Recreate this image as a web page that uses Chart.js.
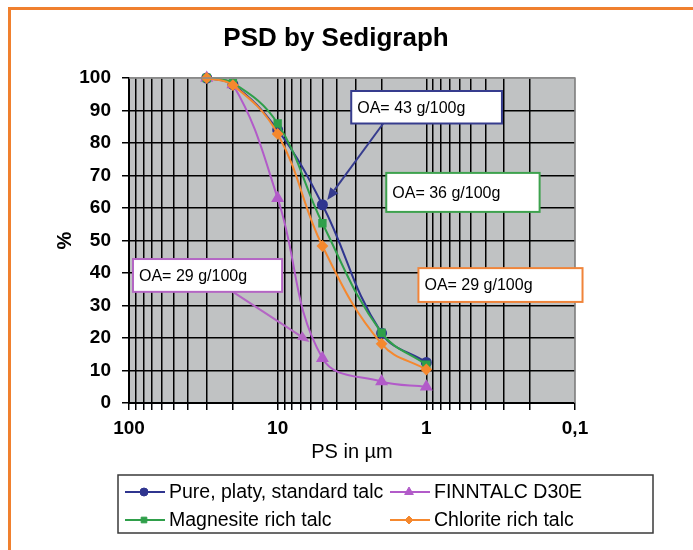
<!DOCTYPE html>
<html>
<head>
<meta charset="utf-8">
<title>PSD by Sedigraph</title>
<script src="https://cdn.jsdelivr.net/npm/chart.js@4"></script>
<style>
  html, body { margin: 0; padding: 0; background: #fff; }
  #wrap { position: relative; width: 693px; height: 550px; overflow: hidden; }
  #frame {
    position: absolute; left: 8px; top: 7px; right: -10px; bottom: -10px;
    border-top: 3px solid #f0802e; border-left: 3px solid #f0802e;
  }
  canvas { position: absolute; left: 0; top: 0; }
</style>
</head>
<body>
<div id="wrap">
  <div id="frame"></div>
  <canvas id="psdChart" width="693" height="550"></canvas>
</div>
<script>
// particle sizes (µm) and cumulative % finer
const sizes = [30, 20, 10, 5, 2, 1];
const pureTalc = [100, 98, 84, 61, 21.5, 12.5];
const finntalc = [100, 98, 63, 13.8, 6.6, 5];
const magnesiteTalc = [100, 98.5, 86, 55.3, 21.6, 11.8];
const chloriteTalc = [100, 97.8, 82.8, 48.3, 18.2, 10.3];

const seriesNames = ['Pure, platy, standard talc', 'FINNTALC D30E', 'Magnesite rich talc', 'Chlorite rich talc'];
const xTickValues = [100, 10, 1, 0.1];
const xTickLabels = ['100', '10', '1', '0,1'];
const chartTitle = 'PSD by Sedigraph';

// annotation boxes: [x1, y1, x2, y2] and arrows: [fromX, fromY, toX, toY] in data units
const notes = [
    { text: 'OA= 43 g/100g', color: '#363c8e', box: [3.2, 96, 0.31, 86], arrow: [1.95, 86, 4.64, 62.5] },
    { text: 'OA= 36 g/100g', color: '#3ea24e', box: [1.86, 70.8, 0.173, 58.8] },
    { text: 'OA= 29 g/100g', color: '#b466c4', box: [94, 44.3, 9.33, 34.2], arrow: [20, 34.2, 6.1, 18.8] },
    { text: 'OA= 29 g/100g', color: '#f0843a', box: [1.13, 41.5, 0.089, 31.1] }
];

const colors = ['#2f358f', '#b25bc9', '#2f9f4a', '#f5882e'];
const markers = ['circle', 'triangle', 'rect', 'rectRot'];
const markerSizes = [4.5, 5.5, 4.5, 4.5];

const FONT = '"Liberation Sans", Arial, sans-serif';
Chart.defaults.font.family = FONT;
Chart.defaults.color = '#000';

// all grid positions on the log axis
const gridValues = [];
[0.1, 1, 10].forEach(decade => {
    for (let i = 1; i < 10; i++) gridValues.push(+(decade * i).toFixed(2));
});
gridValues.push(100);

const toPoints = arr => sizes.map((s, i) => ({ x: s, y: arr[i] }));

const plotBackground = {
    id: 'plotBackground',
    beforeDraw(chart) {
        const { ctx, chartArea: a } = chart;
        ctx.save();
        ctx.fillStyle = '#c0c2c3';
        ctx.fillRect(a.left, a.top, a.right - a.left, a.bottom - a.top);
        ctx.restore();
    },
    afterDraw(chart) {
        const { ctx, chartArea: a } = chart;
        ctx.save();
        ctx.strokeStyle = '#8a8a8a';
        ctx.lineWidth = 1.5;
        ctx.beginPath();
        ctx.moveTo(a.left, a.top);
        ctx.lineTo(a.right, a.top);
        ctx.lineTo(a.right, a.bottom);
        ctx.stroke();
        // title, centred on the page rather than the plot
        ctx.fillStyle = '#000';
        ctx.font = 'bold 26px ' + FONT;
        ctx.textAlign = 'center';
        ctx.textBaseline = 'middle';
        ctx.fillText(chartTitle, 336, 39);
        ctx.restore();
    }
};

const annotations = {
    id: 'annotations',
    afterDraw(chart) {
        const { ctx, scales: { x, y } } = chart;
        ctx.save();
        notes.forEach(n => {
            const x1 = x.getPixelForValue(n.box[0]);
            const y1 = y.getPixelForValue(n.box[1]);
            const x2 = x.getPixelForValue(n.box[2]);
            const y2 = y.getPixelForValue(n.box[3]);
            ctx.fillStyle = '#fff';
            ctx.fillRect(x1, y1, x2 - x1, y2 - y1);
            ctx.strokeStyle = n.color;
            ctx.lineWidth = 2;
            ctx.strokeRect(x1, y1, x2 - x1, y2 - y1);
            ctx.fillStyle = '#000';
            ctx.font = '16px ' + FONT;
            ctx.textBaseline = 'middle';
            ctx.textAlign = 'left';
            ctx.fillText(n.text, x1 + 6, (y1 + y2) / 2 + 1);

            if (n.arrow) {
                const fx = x.getPixelForValue(n.arrow[0]);
                const fy = y.getPixelForValue(n.arrow[1]);
                const tx = x.getPixelForValue(n.arrow[2]);
                const ty = y.getPixelForValue(n.arrow[3]);
                const ang = Math.atan2(ty - fy, tx - fx);
                const len = 12, half = 5;
                const bx = tx - Math.cos(ang) * len;
                const by = ty - Math.sin(ang) * len;
                ctx.strokeStyle = n.color;
                ctx.lineWidth = 2;
                ctx.beginPath();
                ctx.moveTo(fx, fy);
                ctx.lineTo(bx, by);
                ctx.stroke();
                ctx.fillStyle = n.color;
                ctx.beginPath();
                ctx.moveTo(tx, ty);
                ctx.lineTo(bx + Math.sin(ang) * half, by - Math.cos(ang) * half);
                ctx.lineTo(bx - Math.sin(ang) * half, by + Math.cos(ang) * half);
                ctx.closePath();
                ctx.fill();
            }
        });
        ctx.restore();
    }
};

// boxed two-column legend under the axis title
const boxLegend = {
    id: 'boxLegend',
    afterDraw(chart) {
        const { ctx } = chart;
        const left = 118, top = 475, width = 535, height = 58;
        ctx.save();
        ctx.fillStyle = '#fff';
        ctx.fillRect(left, top, width, height);
        ctx.strokeStyle = '#3a3a3a';
        ctx.lineWidth = 1.5;
        ctx.strokeRect(left, top, width, height);

        const cols = [125, 390];
        const rows = [492, 520];
        chart.data.datasets.forEach((ds, i) => {
            const cx = cols[i % 2];
            const cy = rows[Math.floor(i / 2)];
            ctx.strokeStyle = ds.borderColor;
            ctx.lineWidth = 2;
            ctx.beginPath();
            ctx.moveTo(cx, cy);
            ctx.lineTo(cx + 40, cy);
            ctx.stroke();
            ctx.fillStyle = ds.borderColor;
            ctx.lineWidth = 1;
            Chart.helpers.drawPoint(ctx, {
                pointStyle: ds.pointStyle,
                radius: ds.pointRadius - 0.5,
                borderWidth: 1
            }, cx + 19, cy);
            ctx.fillStyle = '#000';
            ctx.font = '19.5px ' + FONT;
            ctx.textBaseline = 'middle';
            ctx.textAlign = 'left';
            ctx.fillText(ds.label, cx + 44, cy + 1);
        });
        ctx.restore();
    }
};

const seriesData = [pureTalc, finntalc, magnesiteTalc, chloriteTalc];

new Chart(document.getElementById('psdChart'), {
    type: 'line',
    data: {
        datasets: seriesData.map((arr, i) => ({
            label: seriesNames[i],
            data: toPoints(arr),
            borderColor: colors[i],
            backgroundColor: colors[i],
            pointBackgroundColor: colors[i],
            pointBorderColor: colors[i],
            pointStyle: markers[i],
            pointRadius: markerSizes[i],
            borderWidth: 2,
            tension: 0.4,
            fill: false,
            clip: false,
            order: 4 - i
        }))
    },
    options: {
        responsive: false,
        animation: false,
        layout: {
            padding: { left: 0, right: 118, top: 78, bottom: 85 }
        },
        plugins: {
            legend: { display: false },
            tooltip: { enabled: false },
            title: { display: false }
        },
        scales: {
            x: {
                type: 'logarithmic',
                reverse: true,
                min: 0.1,
                max: 100,
                afterBuildTicks: scale => {
                    scale.ticks = gridValues.map(v => ({ value: v }));
                },
                afterFit: scale => { scale.height = 62; },
                ticks: {
                    autoSkip: false,
                    maxRotation: 0,
                    padding: 7,
                    font: { size: 19, weight: 'bold' },
                    color: '#000',
                    callback: function(value) {
                        const idx = xTickValues.findIndex(v => Math.abs(v - value) < 1e-9);
                        return idx >= 0 ? xTickLabels[idx] : '';
                    }
                },
                grid: {
                    color: ctx => (ctx.tick && Math.abs(ctx.tick.value - 0.1) < 1e-9) ? '#8a8a8a' : '#000',
                    lineWidth: 1.5,
                    tickLength: 7,
                    tickColor: '#000'
                },
                border: { color: '#000', width: 2 },
                title: {
                    display: true,
                    text: 'PS in µm',
                    font: { size: 20 },
                    color: '#000',
                    padding: { top: 0, bottom: 1 }
                }
            },
            y: {
                min: 0,
                max: 100,
                afterFit: scale => { scale.width = 129; },
                ticks: {
                    stepSize: 10,
                    padding: 11,
                    font: { size: 19, weight: 'bold' },
                    color: '#000'
                },
                grid: {
                    color: ctx => (ctx.tick && ctx.tick.value === 100) ? '#8a8a8a' : '#000',
                    lineWidth: 1.5,
                    tickLength: 7,
                    tickColor: '#000'
                },
                border: { color: '#000', width: 2 },
                title: {
                    display: true,
                    text: '%',
                    font: { size: 20, weight: 'bold' },
                    color: '#000',
                    padding: { top: 53, bottom: 0 }
                }
            }
        }
    },
    plugins: [plotBackground, annotations, boxLegend]
});
</script>
</body>
</html>
